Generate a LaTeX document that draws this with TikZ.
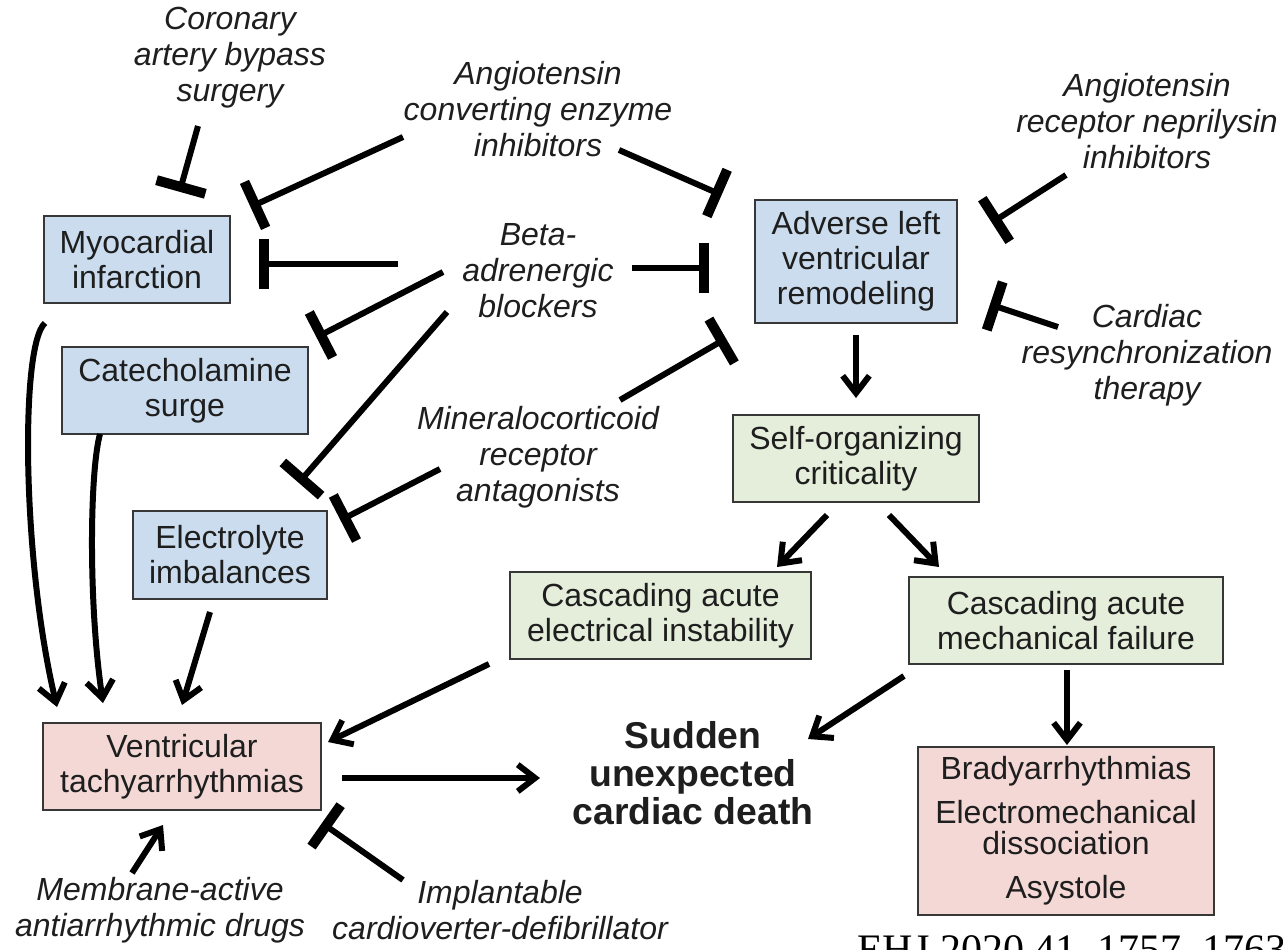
\documentclass[tikz,border=0pt]{standalone}
\usepackage{fontspec}
\setmainfont{Liberation Sans}
\newfontfamily\seriffont{Liberation Serif}
\usetikzlibrary{arrows.meta}
\definecolor{bluefill}{RGB}{202,220,237}
\definecolor{greenfill}{RGB}{228,238,218}
\definecolor{pinkfill}{RGB}{243,216,214}
\definecolor{boxborder}{RGB}{55,55,55}
\definecolor{txt}{RGB}{30,30,30}
\tikzset{
  box/.style={draw=boxborder, line width=1.1pt, inner sep=0pt, outer sep=0pt, align=center,
    font=\fontsize{24pt}{26.25pt}\selectfont, text=txt},
  bluebox/.style={box, fill=bluefill},
  greenbox/.style={box, fill=greenfill},
  pinkbox/.style={box, fill=pinkfill},
  drug/.style={align=center, font=\fontsize{24pt}{27pt}\selectfont\itshape, text=txt, inner sep=0pt},
  inh/.style={line width=4.5pt, -{Rectangle[length=7.5pt,width=38pt]}},
  act/.style={line width=4.5pt, -{Straight Barb[length=13pt,width=20pt]}},
}
\begin{document}
\begin{tikzpicture}[x=0.75pt,y=-0.75pt]
\useasboundingbox (0,0) rectangle (1283,950);
\clip (0,0) rectangle (1283,950);
\fill[white] (0,0) rectangle (1283,950);

% boxes
\node[bluebox, minimum width=139.5pt, minimum height=65.25pt] (mi) at (137,259.5) {Myocardial\\infarction};
\node[bluebox, minimum width=184.5pt, minimum height=65.25pt] (cat) at (185,390.5) {Catecholamine\\surge};
\node[bluebox, minimum width=145.5pt, minimum height=66pt] (ele) at (230,555) {Electrolyte\\imbalances};
\node[bluebox, minimum width=151.5pt, minimum height=92.25pt] (alvr) at (856,261.5) {Adverse left\\ventricular\\remodeling};
\node[greenbox, minimum width=184.5pt, minimum height=65.25pt] (soc) at (856,458.5) {Self-organizing\\criticality};
\node[greenbox, minimum width=225.75pt, minimum height=65.25pt] (caei) at (660.5,615.5) {Cascading acute\\electrical instability};
\node[greenbox, minimum width=235.5pt, minimum height=65.25pt] (camf) at (1066,620.5) {Cascading acute\\mechanical failure};
\node[pinkbox, minimum width=208.5pt, minimum height=65.25pt] (vt) at (182,766.5) {Ventricular\\tachyarrhythmias};
\node[pinkbox, minimum width=222pt, minimum height=126pt, font=\fontsize{24pt}{23.25pt}\selectfont] (brady) at (1066,831)
  {Bradyarrhythmias\\[9.75pt]Electromechanical\\dissociation\\[9.75pt]Asystole};

% drug / therapy labels
\node[drug] (cabg) at (230,58) {Coronary\\artery bypass\\surgery};
\node[drug] (ace) at (538,109) {Angiotensin\\converting enzyme\\inhibitors};
\node[drug] (beta) at (538,271) {Beta-\\adrenergic\\blockers};
\node[drug] (arni) at (1147,121) {Angiotensin\\receptor neprilysin\\inhibitors};
\node[drug] (crt) at (1147,355) {Cardiac\\resynchronization\\therapy};
\node[drug] (mra) at (538,457) {Mineralocorticoid\\receptor\\antagonists};
\node[drug] (mem) at (160,910) {Membrane-active\\antiarrhythmic drugs};
\node[drug] (icd) at (500,910) {Implantable\\cardioverter-defibrillator};

\node[align=center, inner sep=0pt, text=txt, font=\fontsize{28pt}{28.5pt}\selectfont\bfseries] (scd) at (693,773)
  {Sudden\\unexpected\\cardiac death};

\node[anchor=base west, inner sep=0pt, font=\seriffont\fontsize{31.5pt}{33pt}\selectfont] (ehj) at (857,963)
  {EHJ 2020 41, 1757–1763};

% connector end points
\coordinate (cabgS) at (198,126);   \coordinate (cabgE) at (179.6,191.8);
\coordinate (aceS1) at (403,137);   \coordinate (aceE1) at (250.5,207);
\coordinate (betaS1) at (398,264);  \coordinate (betaE1) at (259,264);
\coordinate (aceS2) at (619,150);   \coordinate (aceE2) at (721.6,195);
\coordinate (betaS2) at (632,268);  \coordinate (betaE2) at (709,268);
\coordinate (mraS1) at (620,400);   \coordinate (mraE1) at (726,338.5);
\coordinate (betaS3) at (443,272);  \coordinate (betaE3) at (316.5,337.3);
\coordinate (betaS4) at (447,312);  \coordinate (betaE4) at (298.7,482.8);
\coordinate (mraS2) at (440,469);   \coordinate (mraE2) at (340.5,520.3);
\coordinate (arniS) at (1066,175);  \coordinate (arniE) at (991.8,222.7);
\coordinate (crtS) at (1058,327);   \coordinate (crtE) at (990,304.4);
\coordinate (icdS) at (403,880);    \coordinate (icdE) at (322,823);

\coordinate (a1S) at (856,335);  \coordinate (a1E) at (856,398);
\coordinate (a2S) at (827,515);  \coordinate (a2E) at (777,567);
\coordinate (a3S) at (889,515);  \coordinate (a3E) at (939,567);
\coordinate (a4S) at (1067,670); \coordinate (a4E) at (1067,745);
\coordinate (a5S) at (904,676);  \coordinate (a5E) at (808,739);
\coordinate (a6S) at (489,664);  \coordinate (a6E) at (328,742);
\coordinate (a7S) at (342,778);  \coordinate (a7E) at (540,778);
\coordinate (a8S) at (45,323);   \coordinate (a8E) at (57,707);
\coordinate (a9S) at (100,434);  \coordinate (a9E) at (103,703);
\coordinate (a10S) at (210,612); \coordinate (a10E) at (182,705);
\coordinate (a11S) at (132,873); \coordinate (a11E) at (163,825);

% inhibitions
\draw[inh] (cabgS) -- (cabgE);
\draw[inh] (aceS1) -- (aceE1);
\draw[inh] (betaS1) -- (betaE1);
\draw[inh] (aceS2) -- (aceE2);
\draw[inh] (betaS2) -- (betaE2);
\draw[inh] (mraS1) -- (mraE1);
\draw[inh] (betaS3) -- (betaE3);
\draw[inh] (betaS4) -- (betaE4);
\draw[inh] (mraS2) -- (mraE2);
\draw[inh] (arniS) -- (arniE);
\draw[inh] (crtS) -- (crtE);
\draw[inh] (icdS) -- (icdE);

% activations
\draw[act] (a1S) -- (a1E);
\draw[act] (a2S) -- (a2E);
\draw[act] (a3S) -- (a3E);
\draw[act] (a4S) -- (a4E);
\draw[act] (a5S) -- (a5E);
\draw[act] (a6S) -- (a6E);
\draw[act] (a7S) -- (a7E);
\draw[act] (a8S) .. controls (20,345) and (22,560) .. (a8E);
\draw[act] (a9S) .. controls (90,470) and (88,600) .. (a9E);
\draw[act] (a10S) -- (a10E);
\draw[act] (a11S) -- (a11E);
\end{tikzpicture}
\end{document}
